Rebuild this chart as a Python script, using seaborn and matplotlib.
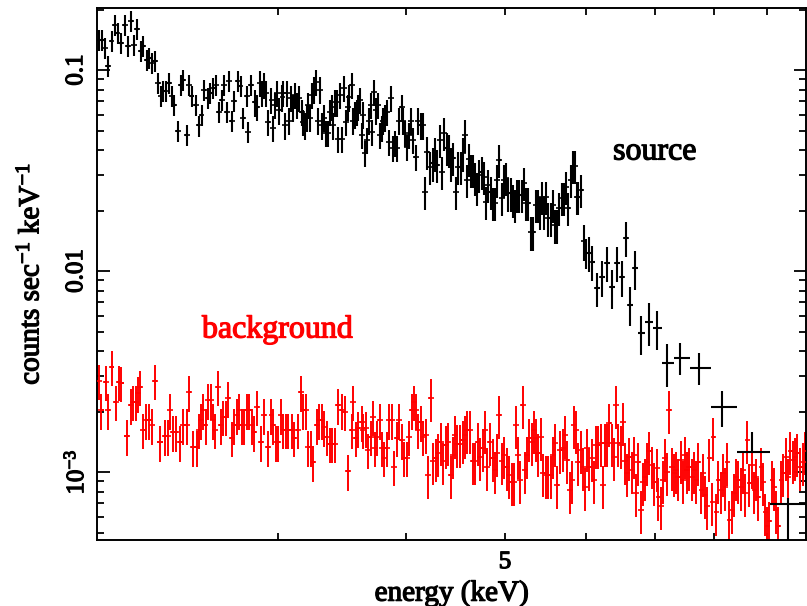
import numpy as np
import pandas as pd
import matplotlib
matplotlib.use("Agg")
import matplotlib.pyplot as plt
import matplotlib.patheffects as pe
import seaborn as sns
from matplotlib.ticker import FixedLocator, FixedFormatter, NullFormatter

# ---------------- data ----------------
# source spectrum, densely binned part: energy (keV) and rate (counts/s/keV)
src_energy = [
    2.009, 2.023, 2.036, 2.050, 2.068, 2.082, 2.096, 2.111, 2.130, 2.144,
    2.159, 2.173, 2.188, 2.208, 2.218, 2.238, 2.248, 2.263, 2.278, 2.294,
    2.309, 2.320, 2.335, 2.351, 2.367, 2.378, 2.399, 2.415, 2.426, 2.448,
    2.459, 2.475, 2.498, 2.514, 2.531, 2.543, 2.566, 2.578, 2.595, 2.613,
    2.630, 2.648, 2.660, 2.678, 2.690, 2.708, 2.721, 2.745, 2.763, 2.776,
    2.801, 2.807, 2.826,
    2.852, 2.865, 2.884, 2.897, 2.910, 2.923, 2.937, 2.957, 2.970, 2.983,
    2.996, 3.010, 3.031, 3.037, 3.051, 3.065, 3.078, 3.092, 3.106, 3.120,
    3.134, 3.148, 3.169, 3.177, 3.191, 3.205, 3.213, 3.227, 3.242, 3.256,
    3.271, 3.285, 3.300, 3.315, 3.330, 3.345, 3.360, 3.375, 3.390, 3.398,
    3.413, 3.429, 3.436, 3.452, 3.467, 3.483, 3.499, 3.514, 3.522, 3.546,
    3.554, 3.570, 3.586, 3.594, 3.610, 3.626, 3.635, 3.651, 3.667, 3.684,
    3.700, 3.709, 3.725, 3.742, 3.759, 3.776, 3.793, 3.802, 3.819, 3.836,
    3.853, 3.871, 3.888, 3.905, 3.923, 3.940, 3.967, 3.976, 3.994, 4.012,
    4.030, 4.048, 4.066, 4.094, 4.113, 4.140, 4.159,
    4.178, 4.197, 4.225, 4.253, 4.272, 4.292, 4.321, 4.340, 4.360, 4.389,
    4.409, 4.429, 4.449, 4.479, 4.499, 4.529, 4.550, 4.570, 4.591, 4.611,
    4.632, 4.653, 4.674, 4.695, 4.716, 4.748, 4.769, 4.791, 4.812, 4.845,
    4.867, 4.889, 4.911, 4.933, 4.967, 4.989, 5.011, 5.033, 5.068, 5.091,
    5.114, 5.137, 5.160, 5.195, 5.218, 5.242, 5.265, 5.301, 5.325, 5.361,
    5.385, 5.409, 5.434, 5.458, 5.483, 5.507, 5.545, 5.570, 5.594, 5.620,
    5.645, 5.683, 5.709, 5.735, 5.760, 5.799, 5.825, 5.852, 5.878, 5.891,
    5.931,
]
src_rate = [
    0.141, 0.141, 0.129, 0.105, 0.139, 0.167, 0.153, 0.136, 0.167, 0.132,
    0.175, 0.133, 0.160, 0.124, 0.132, 0.112, 0.115, 0.108, 0.111, 0.086,
    0.074, 0.079, 0.079, 0.086, 0.074, 0.067, 0.050, 0.084, 0.089, 0.0475,
    0.084, 0.074, 0.067, 0.053, 0.060, 0.080, 0.0725, 0.077, 0.0815, 0.084,
    0.062, 0.071, 0.084, 0.062, 0.088, 0.056, 0.070, 0.088, 0.083, 0.058,
    0.074, 0.049, 0.084,
    0.069, 0.0655, 0.086, 0.077, 0.084, 0.077, 0.055, 0.071, 0.0515, 0.067,
    0.077, 0.063, 0.073, 0.077, 0.053, 0.077, 0.056, 0.0725, 0.065, 0.075,
    0.067, 0.0725, 0.062, 0.055, 0.053, 0.058, 0.067, 0.058, 0.075, 0.080,
    0.087, 0.056, 0.080, 0.053, 0.058, 0.0486, 0.0486, 0.062, 0.0655, 0.053,
    0.069, 0.069, 0.0454, 0.075, 0.0454, 0.0815, 0.055, 0.0655, 0.073, 0.084,
    0.056, 0.060, 0.062, 0.0655, 0.071, 0.0475, 0.060, 0.0386, 0.0449, 0.056,
    0.067, 0.049, 0.078, 0.063, 0.067, 0.0475, 0.0515, 0.056, 0.058, 0.062,
    0.0438, 0.0725, 0.0409, 0.0433, 0.0409, 0.056, 0.0655, 0.056, 0.0486, 0.0414,
    0.0475, 0.056, 0.0449, 0.037, 0.056, 0.053, 0.053,
    0.0247, 0.0391, 0.0329, 0.0344, 0.0386, 0.0337, 0.0449, 0.0311, 0.0486, 0.0409,
    0.040, 0.0344, 0.0366, 0.0247, 0.0329, 0.0329, 0.0386, 0.0475, 0.0284, 0.0362,
    0.0318, 0.0318, 0.0291, 0.0259, 0.0301, 0.0311, 0.0294, 0.0221, 0.0268, 0.0247,
    0.0218, 0.0218, 0.0284, 0.0357, 0.0231, 0.0284, 0.0291, 0.0244, 0.0244, 0.0226,
    0.0213, 0.0239, 0.0239, 0.0239, 0.0274, 0.0218, 0.0218, 0.0156, 0.0156, 0.0213,
    0.0213, 0.0197, 0.0234, 0.0197, 0.0234, 0.0183, 0.0183, 0.0213, 0.0169, 0.0169,
    0.0206, 0.0231, 0.0231, 0.0262, 0.0206, 0.0284, 0.0333, 0.0333, 0.0234, 0.0234,
    0.0253,
]
# relative error level of the dense source bins, by energy band
src_err_band_edges = [2.84, 4.17]
src_err_band_levels = [0.12, 0.15, 0.19]

# source spectrum, coarsely binned high-energy tail
tail_energy = [5.972, 5.998, 6.038, 6.080, 6.148, 6.218, 6.288, 6.359, 6.431, 6.503,
               6.562, 6.621, 6.696, 6.787, 6.910, 7.036, 7.195, 7.408, 7.732, 8.142,
               8.710, 9.443]
tail_rate = [0.0141, 0.0123, 0.0123, 0.0111, 0.0082, 0.0093, 0.0110, 0.0083, 0.0110, 0.0093,
             0.0146, 0.0068, 0.0103, 0.0049, 0.0056, 0.0052, 0.0035, 0.0037, 0.0033, 0.0021,
             0.00126, 0.00069]
tail_rel_err_up = [0.20, 0.17, 0.20, 0.20, 0.19, 0.20, 0.20, 0.22, 0.20, 0.20,
                   0.20, 0.22, 0.22, 0.22, 0.24, 0.22, 0.24, 0.18, 0.18, 0.20,
                   0.25, 0.08]
tail_rel_err_down = [0.20, 0.17, 0.20, 0.20, 0.19, 0.20, 0.20, 0.22, 0.20, 0.20,
                     0.20, 0.22, 0.22, 0.22, 0.24, 0.22, 0.24, 0.18, 0.18, 0.20,
                     0.0, 0.50]

# background spectrum
bkg_energy = [
    2.009, 2.018, 2.041, 2.050, 2.068, 2.087, 2.101, 2.111, 2.139, 2.159,
    2.168, 2.183, 2.193, 2.203, 2.218, 2.233, 2.248, 2.263, 2.278, 2.304,
    2.330, 2.346, 2.356, 2.372, 2.388, 2.410, 2.426, 2.448, 2.459, 2.481,
    2.503, 2.514, 2.526, 2.537, 2.554, 2.566, 2.584, 2.595, 2.607, 2.624,
    2.642, 2.654, 2.672, 2.684, 2.708, 2.721, 2.739, 2.751, 2.770, 2.782,
    2.801, 2.814, 2.833, 2.846, 2.865, 2.891, 2.910, 2.937, 2.957, 2.970,
    2.990, 3.003, 3.024, 3.037, 3.058, 3.072, 3.099, 3.113, 3.141, 3.162,
    3.177, 3.198, 3.213, 3.234, 3.249, 3.278, 3.293, 3.315, 3.330, 3.352,
    3.375,
    3.390, 3.413, 3.436, 3.467, 3.491, 3.514, 3.546, 3.554, 3.578, 3.594,
    3.626, 3.635, 3.659, 3.675, 3.700, 3.717, 3.734, 3.750, 3.776, 3.793,
    3.810, 3.836, 3.853, 3.879, 3.896, 3.923, 3.940, 3.967, 3.985, 4.012,
    4.030, 4.057, 4.076, 4.094, 4.113, 4.140, 4.159, 4.187, 4.206, 4.234,
    4.253, 4.282, 4.301, 4.330, 4.350, 4.379, 4.399, 4.429, 4.449, 4.469,
    4.489, 4.519, 4.550, 4.570, 4.591, 4.622, 4.653, 4.674, 4.706, 4.727,
    4.759, 4.780, 4.801, 4.834, 4.867, 4.889, 4.911, 4.933, 4.967, 4.989,
    5.022, 5.045, 5.079, 5.102, 5.125, 5.148, 5.171, 5.206, 5.230, 5.253,
    5.277, 5.313, 5.337, 5.361, 5.385, 5.421, 5.446, 5.483, 5.507, 5.545,
    5.570, 5.594, 5.620, 5.658, 5.696, 5.722, 5.748, 5.786,
    5.812, 5.839, 5.865, 5.891, 5.931, 5.958, 5.985, 6.012, 6.038, 6.080,
    6.107, 6.135, 6.162, 6.204, 6.232, 6.260, 6.288, 6.316, 6.359, 6.388,
    6.416, 6.445, 6.488, 6.518, 6.547, 6.577, 6.606, 6.651, 6.681, 6.711,
    6.741, 6.787, 6.818, 6.848, 6.879, 6.910, 6.957, 6.988, 7.036, 7.052,
    7.099, 7.131, 7.163, 7.195, 7.228, 7.277, 7.310, 7.342, 7.375, 7.425,
    7.458, 7.492, 7.526, 7.560, 7.611, 7.646, 7.680, 7.715, 7.767, 7.802,
    7.837, 7.872, 7.908, 7.961, 7.979, 8.033, 8.069, 8.124, 8.160, 8.197,
    8.234, 8.271, 8.327, 8.364, 8.402, 8.440, 8.497, 8.536, 8.574, 8.613,
    8.652, 8.710, 8.749, 8.789, 8.828, 8.888, 8.928, 8.968, 9.008, 9.049,
    9.110, 9.151, 9.193, 9.234, 9.297, 9.339, 9.401, 9.443, 9.486, 9.551,
    9.594, 9.637, 9.702, 9.767, 9.811,
]
bkg_rate = [
    0.00284, 0.00203, 0.00281, 0.00203, 0.00334, 0.00223, 0.00281, 0.00278, 0.00151, 0.00215,
    0.00223, 0.00223, 0.00247, 0.00265, 0.00162, 0.00181, 0.00181, 0.00171, 0.00284, 0.00141,
    0.00151, 0.00151, 0.00203, 0.00158, 0.00158, 0.00141, 0.00171, 0.00171, 0.00250, 0.00133,
    0.00133, 0.00162, 0.00181, 0.00203, 0.00171, 0.00228, 0.00228, 0.00181, 0.00162, 0.00265,
    0.00171, 0.00188, 0.00188, 0.00233, 0.00148, 0.00171, 0.00192, 0.00203, 0.00171, 0.00171,
    0.00203, 0.00203, 0.00171, 0.00158, 0.00211, 0.00141, 0.00192, 0.00133, 0.00192, 0.00171,
    0.00141, 0.00141, 0.00192, 0.00162, 0.00162, 0.00162, 0.00162, 0.00148, 0.00162, 0.00250,
    0.00203, 0.00203, 0.00133, 0.00133, 0.00112, 0.00171, 0.00181, 0.00181, 0.00167, 0.00150,
    0.00138,
    0.00138, 0.00138, 0.00215, 0.00203, 0.00199, 0.00101, 0.00162, 0.00223, 0.00148, 0.00165,
    0.00177, 0.00162, 0.00165, 0.00129, 0.00150, 0.00188, 0.00132, 0.00150, 0.00181, 0.00132,
    0.00118, 0.00132, 0.00181, 0.00181, 0.00106, 0.00148, 0.00181, 0.00144, 0.00118, 0.00118,
    0.00150, 0.00203, 0.00223, 0.00203, 0.00162, 0.00177, 0.00150, 0.00153, 0.00097, 0.00233,
    0.00113, 0.00118, 0.00125, 0.00141, 0.00113, 0.00136, 0.00141, 0.00097, 0.00121, 0.00153,
    0.00138, 0.00138, 0.00144, 0.00153, 0.00162, 0.00162, 0.00113, 0.00113, 0.00141, 0.00119,
    0.00132, 0.00162, 0.00106, 0.00141, 0.00118, 0.00102, 0.00124, 0.00192, 0.00113, 0.00121,
    0.00106, 0.00097, 0.00089, 0.00089, 0.00171, 0.00121, 0.00091, 0.00215, 0.00102, 0.00121,
    0.00148, 0.00141, 0.00162, 0.00148, 0.00124, 0.00150, 0.00099, 0.00097, 0.00097, 0.00097,
    0.00121, 0.00139, 0.00086, 0.00129, 0.00132, 0.00153, 0.00115, 0.00081,
    0.00091, 0.00171, 0.00162, 0.00112, 0.00129, 0.00106, 0.00084, 0.00132, 0.00106, 0.00118,
    0.00091, 0.00136, 0.00136, 0.00139, 0.00086, 0.00139, 0.00139, 0.00175, 0.00139, 0.00119,
    0.00215, 0.00139, 0.00136, 0.00177, 0.00113, 0.00099, 0.00119, 0.00102, 0.00121, 0.00079,
    0.00112, 0.00065, 0.00089, 0.00094, 0.00112, 0.00127, 0.00108, 0.00089, 0.00105, 0.00075,
    0.00068, 0.00091, 0.00118, 0.00100, 0.00203, 0.00106, 0.00099, 0.00102, 0.00094, 0.00115,
    0.00091, 0.00121, 0.00102, 0.00106, 0.00094, 0.00102, 0.00091, 0.00112, 0.00081, 0.00099,
    0.00077, 0.00068, 0.00118, 0.00071, 0.00150, 0.00063, 0.00091, 0.00081, 0.00099, 0.00084,
    0.00112, 0.00058, 0.00065, 0.00079, 0.00094, 0.00091, 0.00084, 0.00102, 0.00079, 0.00144,
    0.00088, 0.00108, 0.00081, 0.00094, 0.00075, 0.00106, 0.00089, 0.00063, 0.00054, 0.00057,
    0.00091, 0.00084, 0.00065, 0.00054, 0.00091, 0.00099, 0.00119, 0.00094, 0.00127, 0.00115,
    0.00119, 0.00124, 0.00106, 0.00112, 0.00127,
]
# relative error level of the background bins, by energy band
bkg_err_band_edges = [4.2]
bkg_err_band_levels = [0.20, 0.24]

x_tick_major = [5]
x_tick_major_labels = ["5"]
x_tick_minor = [3, 4, 6, 7, 8, 9]
y_tick_major = [1e-3, 1e-2, 1e-1]
y_tick_major_labels = ["$10^{-3}$", "0.01", "0.1"]

# ---------------- helpers ----------------
def bin_halfwidths(e):
    e = np.asarray(e, dtype=float)
    mid = np.sqrt(e[1:] * e[:-1])
    lo = np.concatenate([[e[0] ** 2 / mid[0]], mid])
    hi = np.concatenate([mid, [e[-1] ** 2 / mid[-1]]])
    return e - lo, hi - e


def band_levels(e, edges, levels):
    idx = np.searchsorted(edges, np.asarray(e))
    return np.asarray(levels)[idx]


# ---------------- assemble tables ----------------
se = np.array(src_energy + tail_energy)
sr = np.array(src_rate + tail_rate)
dense_frac = band_levels(src_energy, src_err_band_edges, src_err_band_levels)
s_up = np.concatenate([dense_frac, tail_rel_err_up]) * sr
s_dn = np.concatenate([dense_frac, tail_rel_err_down]) * sr
s_xl, s_xh = bin_halfwidths(se)

be = np.array(bkg_energy)
br = np.array(bkg_rate)
b_frac = band_levels(bkg_energy, bkg_err_band_edges, bkg_err_band_levels)
b_up = b_frac * br
b_dn = b_frac * br
b_xl, b_xh = bin_halfwidths(be)

df = pd.concat([
    pd.DataFrame({"energy": be, "rate": br, "spectrum": "background"}),
    pd.DataFrame({"energy": se, "rate": sr, "spectrum": "source"}),
], ignore_index=True)

# ---------------- style ----------------
sns.set_theme(style="ticks")
plt.rcParams["font.family"] = ["Liberation Serif", "DejaVu Serif"]
plt.rcParams["font.weight"] = "normal"
plt.rcParams["mathtext.default"] = "regular"
plt.rcParams["axes.linewidth"] = 1.4

fig = plt.figure(figsize=(8.07, 6.06), dpi=100)
ax = fig.add_axes([97 / 807, 1 - 540 / 606, (806 - 97) / 807, (540 - 8) / 606])
ax.set_xscale("log")
ax.set_yscale("log")

red = "#ff0000"
ax.errorbar(be, br, xerr=[b_xl, b_xh], yerr=[b_dn, b_up], fmt="none",
            ecolor=red, elinewidth=1.4, capsize=0, zorder=2)
ax.errorbar(se, sr, xerr=[s_xl, s_xh], yerr=[s_dn, s_up], fmt="none",
            ecolor="black", elinewidth=1.5, capsize=0, zorder=3)
sns.scatterplot(data=df, x="energy", y="rate", hue="spectrum",
                palette={"background": red, "source": "black"},
                marker="_", s=14, linewidth=1.2, legend=False, ax=ax, zorder=4)

ax.set_xlim(2.0, 9.83)
ax.set_ylim(4.59e-4, 0.2035)

ax.xaxis.set_major_locator(FixedLocator(x_tick_major))
ax.xaxis.set_major_formatter(FixedFormatter(x_tick_major_labels))
ax.xaxis.set_minor_locator(FixedLocator(x_tick_minor))
ax.xaxis.set_minor_formatter(NullFormatter())

y_minor = [m * 10.0 ** p for p in (-4, -3, -2, -1) for m in range(2, 10)]
ax.yaxis.set_major_locator(FixedLocator(y_tick_major))
ax.yaxis.set_major_formatter(FixedFormatter(y_tick_major_labels))
ax.yaxis.set_minor_locator(FixedLocator(y_minor))
ax.yaxis.set_minor_formatter(NullFormatter())

ax.tick_params(which="both", direction="in", top=True, right=True,
               width=1.3, color="black", labelsize=18, labelcolor="black")
ax.tick_params(axis="x", which="both", length=5, pad=8)
ax.tick_params(axis="y", which="major", length=9, pad=15)
ax.tick_params(axis="y", which="minor", length=5)
for sp in ax.spines.values():
    sp.set_color("black")
    sp.set_linewidth(1.4)

ax.set_xlabel("energy (keV)", fontsize=21, color="black", labelpad=5)
ax.set_ylabel("counts sec$^{-1}$ keV$^{-1}$", fontsize=21,
              color="black", labelpad=14)

t1 = ax.text(7.0, 0.0391, "source", ha="center", va="center", fontsize=23,
             color="black")
t2 = ax.text(3.0, 0.0051, "background", ha="center", va="center", fontsize=23,
             color=red)

# slightly heavier strokes, like the plotting-package font of the reference
thick = [pe.withStroke(linewidth=0.9, foreground="black")]
for lab in ax.get_yticklabels():
    lab.set_rotation(90)
    lab.set_va("center")
    lab.set_ha("center")
    lab.set_path_effects(thick)
for lab in ax.get_xticklabels():
    lab.set_path_effects(thick)
ax.xaxis.label.set_path_effects(thick)
ax.yaxis.label.set_path_effects(thick)
t1.set_path_effects(thick)
t2.set_path_effects([pe.withStroke(linewidth=0.9, foreground=red)])

fig.savefig("out.png", dpi=100)
